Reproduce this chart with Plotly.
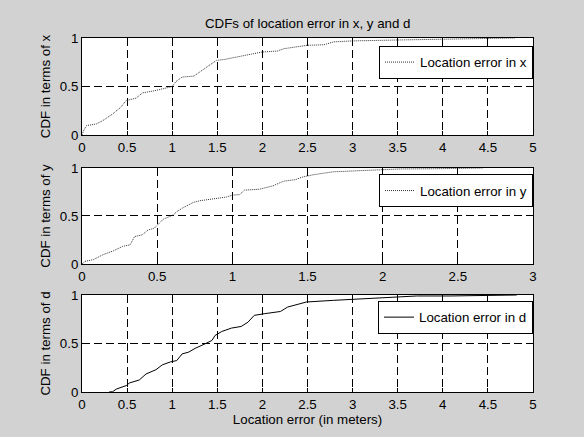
import plotly.graph_objects as go

# ---- data ----
err_x = [0.0, 0.02, 0.05, 0.16, 0.23, 0.34, 0.43, 0.49, 0.60, 0.67, 0.82, 0.93, 1.00, 1.04, 1.11,
         1.24, 1.33, 1.42, 1.49, 1.58, 1.73, 1.88, 1.99, 2.17, 2.24, 2.39, 2.50, 2.68, 2.79,
         3.00, 3.41, 3.53, 3.97, 4.45, 4.80]
cdf_x = [0.0, 0.05, 0.097, 0.114, 0.148, 0.217, 0.286, 0.355, 0.38, 0.434, 0.459, 0.483, 0.50, 0.55, 0.597,
         0.607, 0.666, 0.717, 0.769, 0.779, 0.81, 0.834, 0.855, 0.866, 0.89, 0.907, 0.925, 0.93, 0.96,
         0.97, 0.972, 0.98, 0.987, 0.992, 1.0]

err_y = [0.0, 0.02, 0.075, 0.14, 0.21, 0.27, 0.32, 0.35, 0.40, 0.44, 0.48, 0.51, 0.54, 0.606, 0.63,
         0.672, 0.74, 0.783, 0.872, 0.96, 1.00, 1.05, 1.08, 1.18, 1.27, 1.34, 1.42, 1.47, 1.54,
         1.67, 1.89, 2.12, 2.34, 2.67]
cdf_y = [0.0, 0.028, 0.045, 0.097, 0.138, 0.183, 0.20, 0.286, 0.303, 0.355, 0.372, 0.424, 0.466, 0.51, 0.545,
         0.586, 0.641, 0.659, 0.676, 0.697, 0.717, 0.724, 0.769, 0.779, 0.814, 0.862, 0.879, 0.907, 0.93,
         0.96, 0.975, 0.99, 0.992, 1.0]

err_d = [0.30, 0.34, 0.38, 0.49, 0.526, 0.635, 0.71, 0.82, 0.89, 0.98, 1.05, 1.11, 1.18, 1.255, 1.365,
         1.44, 1.475, 1.55, 1.657, 1.766, 1.84, 1.91, 2.02, 2.20, 2.28, 2.35, 2.49, 2.79, 3.00,
         3.34, 3.71, 4.08, 4.78, 4.82]
cdf_d = [0.0, 0.003, 0.03, 0.066, 0.093, 0.124, 0.186, 0.23, 0.28, 0.31, 0.324, 0.393, 0.41, 0.45, 0.497,
         0.531, 0.583, 0.624, 0.659, 0.676, 0.72, 0.79, 0.807, 0.83, 0.876, 0.893, 0.928, 0.945, 0.955,
         0.97, 0.99, 0.99, 0.995, 1.0]

x_ticks_5 = [0, 0.5, 1, 1.5, 2, 2.5, 3, 3.5, 4, 4.5, 5]
x_ticks_3 = [0, 0.5, 1, 1.5, 2, 2.5, 3]
y_ticks = [0, 0.5, 1]
y_tick_text = ["0", "0.5", "1"]

title_text = "CDFs of location error in x, y and d"
x_title = "Location error (in meters)"
y_titles = ["CDF in terms of x", "CDF in terms of y", "CDF in terms of d"]
names = ["Location error in x", "Location error in y", "Location error in d"]

FONT = "Liberation Sans, Arial, Helvetica, sans-serif"
FS = 13.3
BG = "#d2d2d2"

fig = go.Figure()
fig.add_trace(go.Scatter(x=err_x, y=cdf_x, mode="lines", name=names[0],
                         line=dict(color="#333333", width=1, dash="1px,1px"),
                         xaxis="x", yaxis="y", legend="legend"))
fig.add_trace(go.Scatter(x=err_y, y=cdf_y, mode="lines", name=names[1],
                         line=dict(color="#333333", width=1, dash="1px,1px"),
                         xaxis="x2", yaxis="y2", legend="legend2"))
fig.add_trace(go.Scatter(x=err_d, y=cdf_d, mode="lines", name=names[2],
                         line=dict(color="#000000", width=1),
                         xaxis="x3", yaxis="y3", legend="legend3"))

def xaxis(rng, ticks, anchor, title=None):
    d = dict(range=rng, tickvals=ticks, ticktext=[f"{t:g}" for t in ticks],
             showline=True, linecolor="black", linewidth=1, mirror="ticks",
             ticks="inside", ticklen=4, tickcolor="black",
             showgrid=True, gridcolor="black", gridwidth=1, griddash="8px,4px",
             zeroline=False, anchor=anchor, domain=[0, 1], automargin=False,
             tickfont=dict(family=FONT, size=FS, color="black"))
    if title:
        d["title"] = dict(text=title, font=dict(family=FONT, size=FS, color="black"), standoff=2)
    return d

def yaxis(dom, anchor, title):
    return dict(range=[0, 1], tickvals=y_ticks, ticktext=y_tick_text,
                showline=True, linecolor="black", linewidth=1, mirror="ticks",
                ticks="inside", ticklen=4, tickcolor="black",
                showgrid=True, gridcolor="black", gridwidth=1, griddash="8px,4px",
                zeroline=False, anchor=anchor, domain=dom, automargin=False,
                tickfont=dict(family=FONT, size=FS, color="black"),
                title=dict(text=title, font=dict(family=FONT, size=FS, color="black"), standoff=6))

doms = [[0.726, 1.0], [0.3616, 0.6328], [0.0, 0.274]]

def legend(yc):
    return dict(x=1.0, xanchor="right", y=yc, yanchor="middle",
                bgcolor="white", bordercolor="black", borderwidth=1,
                font=dict(family=FONT, size=FS, color="black"),
                itemwidth=30, tracegroupgap=0)

fig.update_layout(
    width=584, height=437,
    margin=dict(l=82, r=51, t=38, b=45),
    paper_bgcolor=BG, plot_bgcolor="white",
    showlegend=True,
    xaxis=xaxis([0, 5], x_ticks_5, "y"),
    yaxis=yaxis(doms[0], "x", y_titles[0]),
    xaxis2=xaxis([0, 3], x_ticks_3, "y2"),
    yaxis2=yaxis(doms[1], "x2", y_titles[1]),
    xaxis3=xaxis([0, 5], x_ticks_5, "y3", x_title),
    yaxis3=yaxis(doms[2], "x3", y_titles[2]),
    legend=legend(0.931),
    legend2=legend(0.568),
    legend3=legend(0.2105),
    annotations=[dict(text=title_text, xref="paper", yref="paper", x=0.5, y=1.042,
                      xanchor="center", yanchor="middle", showarrow=False,
                      font=dict(family=FONT, size=FS, color="black"))],
)

fig.write_html("out.html", config={"displayModeBar": False},
               post_script="document.body.style.margin='0';document.body.style.background='%s';" % BG)
